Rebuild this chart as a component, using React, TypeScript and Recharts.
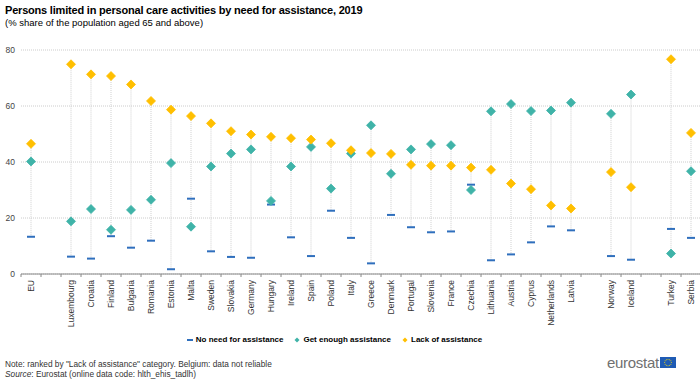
import React from 'react';
import { ComposedChart, Bar, Scatter, XAxis, YAxis, CartesianGrid } from 'recharts';

const categories = [
  'EU', '', 'Luxembourg', 'Croatia', 'Finland', 'Bulgaria', 'Romania', 'Estonia', 'Malta', 'Sweden',
  'Slovakia', 'Germany', 'Hungary', 'Ireland', 'Spain', 'Poland', 'Italy', 'Greece', 'Denmark',
  'Portugal', 'Slovenia', 'France', 'Czechia', 'Lithuania', 'Austria', 'Cyprus', 'Netherlands',
  'Latvia', '', 'Norway', 'Iceland', '', 'Turkey', 'Serbia',
];

const noNeed: (number | null)[] = [
  13.3, null, 6.2, 5.5, 13.5, 9.4, 11.9, 1.7, 26.9, 8.1,
  6.1, 5.8, 24.8, 13.1, 6.4, 22.6, 12.9, 3.8, 21.1,
  16.7, 14.9, 15.2, 31.9, 4.9, 7.0, 11.3, 17.0,
  15.6, null, 6.4, 5.1, null, 16.1, 12.9,
];

const getEnough: (number | null)[] = [
  40.2, null, 18.8, 23.2, 15.8, 22.9, 26.5, 39.6, 16.9, 38.4,
  43.0, 44.5, 26.1, 38.4, 45.4, 30.5, 43.0, 53.1, 35.8,
  44.5, 46.4, 46.0, 30.0, 58.1, 60.7, 58.2, 58.4,
  61.2, null, 57.2, 64.1, null, 7.3, 36.7,
];

const lackOfAssistance: (number | null)[] = [
  46.5, null, 74.9, 71.3, 70.7, 67.7, 61.8, 58.7, 56.4, 53.8,
  51.0, 49.8, 49.0, 48.5, 48.0, 46.7, 44.2, 43.2, 42.9,
  39.0, 38.7, 38.7, 38.0, 37.2, 32.3, 30.3, 24.5,
  23.4, null, 36.4, 31.0, null, 76.7, 50.4,
];

const yTicks = [0, 20, 40, 60, 80];

const COLOR_NONEED = '#2f6fbd';
const COLOR_ENOUGH = '#3fb3a8';
const COLOR_LACK = '#ffbf00';
const FONT = '"Liberation Sans", Arial, sans-serif';

const data = categories.map((name, i) => {
  const vals = [noNeed[i], getEnough[i], lackOfAssistance[i]].filter((v) => v != null) as number[];
  return {
    idx: i,
    name,
    noNeed: noNeed[i],
    getEnough: getEnough[i],
    lack: lackOfAssistance[i],
    range: vals.length ? [Math.min(...vals), Math.max(...vals)] : null,
  };
});

const RangeLine = (props: any) => {
  const { x, y, width, height, payload } = props;
  if (!payload || !payload.range) return null;
  const cx = x + width / 2;
  const top = Math.min(y, y + height);
  const bot = Math.max(y, y + height);
  return <line x1={cx} x2={cx} y1={top} y2={bot} stroke="#cfcfcf" strokeWidth={1} strokeDasharray="1 1" />;
};

const makeDiamond = (key: string, color: string) => (props: any) => {
  const { cx, cy, payload } = props;
  if (!payload || payload[key] == null || cx == null || cy == null) return null;
  const r = 4.5;
  return (
    <path
      d={`M${cx},${cy - r}L${cx + r},${cy}L${cx},${cy + r}L${cx - r},${cy}Z`}
      fill={color}
      stroke={color}
      strokeWidth={0.8}
      strokeLinejoin="round"
    />
  );
};

const Dash = (props: any) => {
  const { cx, cy, payload } = props;
  if (!payload || payload.noNeed == null || cx == null || cy == null) return null;
  return <rect x={cx - 4} y={cy - 1} width={8} height={2} fill={COLOR_NONEED} />;
};

const XTick = (props: any) => {
  const { x, payload } = props;
  const label = categories[payload.value] ?? '';
  const axisY = 274;
  return (
    <g>
      <line x1={x - 10} x2={x - 10} y1={axisY} y2={axisY + 3} stroke="#888" strokeWidth={1} />
      {label ? (
        <text
          transform={`translate(${x + 3},${axisY + 6}) rotate(-90)`}
          textAnchor="end"
          fontSize={8.5}
          fontFamily={FONT}
          fill="#333"
        >
          {label}
        </text>
      ) : null}
    </g>
  );
};

const YTick = (props: any) => {
  const { y, payload } = props;
  return (
    <text x={15} y={y + 3} textAnchor="end" fontSize={8.5} fontFamily={FONT} fill="#444">
      {payload.value}
    </text>
  );
};

const DashIcon = () => (
  <svg width={8} height={8} style={{ verticalAlign: 'middle', marginRight: 2 }}>
    <rect x={1} y={3} width={6} height={2} fill={COLOR_NONEED} />
  </svg>
);
const DotIcon = ({ color }: { color: string }) => (
  <svg width={8} height={8} style={{ verticalAlign: 'middle', marginRight: 2 }}>
    <path d="M4,1.5L6.5,4L4,6.5L1.5,4Z" fill={color} />
  </svg>
);

export default function App() {
  return (
    <div style={{ position: 'absolute', left: 0, top: 0, width: 700, height: 381, overflow: 'hidden', background: '#fff', fontFamily: FONT }}>
      <div style={{ position: 'absolute', left: 5, top: 4, fontSize: 11, fontWeight: 'bold', color: '#000', whiteSpace: 'nowrap', letterSpacing: -0.2 }}>
        Persons limited in personal care activities by need for assistance, 2019
      </div>
      <div style={{ position: 'absolute', left: 5, top: 17, fontSize: 9.5, color: '#000', whiteSpace: 'nowrap' }}>
        (% share of the population aged 65 and above)
      </div>
      <div style={{ position: 'absolute', left: 0, top: 0 }}>
        <ComposedChart
          width={701}
          height={381}
          data={data}
          margin={{ top: 50, right: 0, left: 0, bottom: 0 }}
          barCategoryGap={0}
        >
          <CartesianGrid vertical={false} stroke="#cccccc" strokeDasharray="1 1" />
          <XAxis
            dataKey="idx"
            type="category"
            height={107}
            axisLine={{ stroke: '#888' }}
            tickLine={false}
            interval={0}
            tick={<XTick />}
          />
          <YAxis
            width={21}
            domain={[0, 80]}
            ticks={yTicks}
            axisLine={false}
            tickLine={false}
            tick={<YTick />}
          />
          <Bar dataKey="range" shape={<RangeLine />} isAnimationActive={false} />
          <Scatter dataKey="noNeed" shape={<Dash />} isAnimationActive={false} />
          <Scatter dataKey="getEnough" shape={makeDiamond('getEnough', COLOR_ENOUGH)} isAnimationActive={false} />
          <Scatter dataKey="lack" shape={makeDiamond('lack', COLOR_LACK)} isAnimationActive={false} />
        </ComposedChart>
      </div>
      <div style={{ position: 'absolute', left: 0, top: 335, width: 668, textAlign: 'center', fontSize: 8, fontWeight: 'bold', color: '#000', whiteSpace: 'nowrap' }}>
        <span style={{ marginRight: 10 }}><DashIcon />No need for assistance</span>
        <span style={{ marginRight: 10 }}><DotIcon color={COLOR_ENOUGH} />Get enough assistance</span>
        <span><DotIcon color={COLOR_LACK} />Lack of assistance</span>
      </div>
      <div style={{ position: 'absolute', left: 5, top: 359, fontSize: 8.3, color: '#333', whiteSpace: 'nowrap' }}>
        Note: ranked by "Lack of assistance" category. Belgium: data not reliable
      </div>
      <div style={{ position: 'absolute', left: 5, top: 369, fontSize: 8.3, color: '#333', whiteSpace: 'nowrap' }}>
        <i>Source</i>: Eurostat (online data code: hlth_ehis_tadlh)
      </div>
      <div style={{ position: 'absolute', left: 607, top: 354, display: 'flex', alignItems: 'center' }}>
        <span style={{ fontSize: 15, color: '#707070', fontFamily: FONT, letterSpacing: -0.3 }}>eurostat</span>
        <svg width={16} height={11} style={{ marginLeft: 1 }}>
          <rect x={0} y={0} width={16} height={11} fill="#1f5bb4" />
          {Array.from({ length: 12 }).map((_, k) => {
            const a = (k / 12) * Math.PI * 2;
            return <circle key={k} cx={8 + 3.3 * Math.cos(a)} cy={5.5 + 3.3 * Math.sin(a)} r={0.5} fill="#ffdd00" />;
          })}
        </svg>
      </div>
    </div>
  );
}
